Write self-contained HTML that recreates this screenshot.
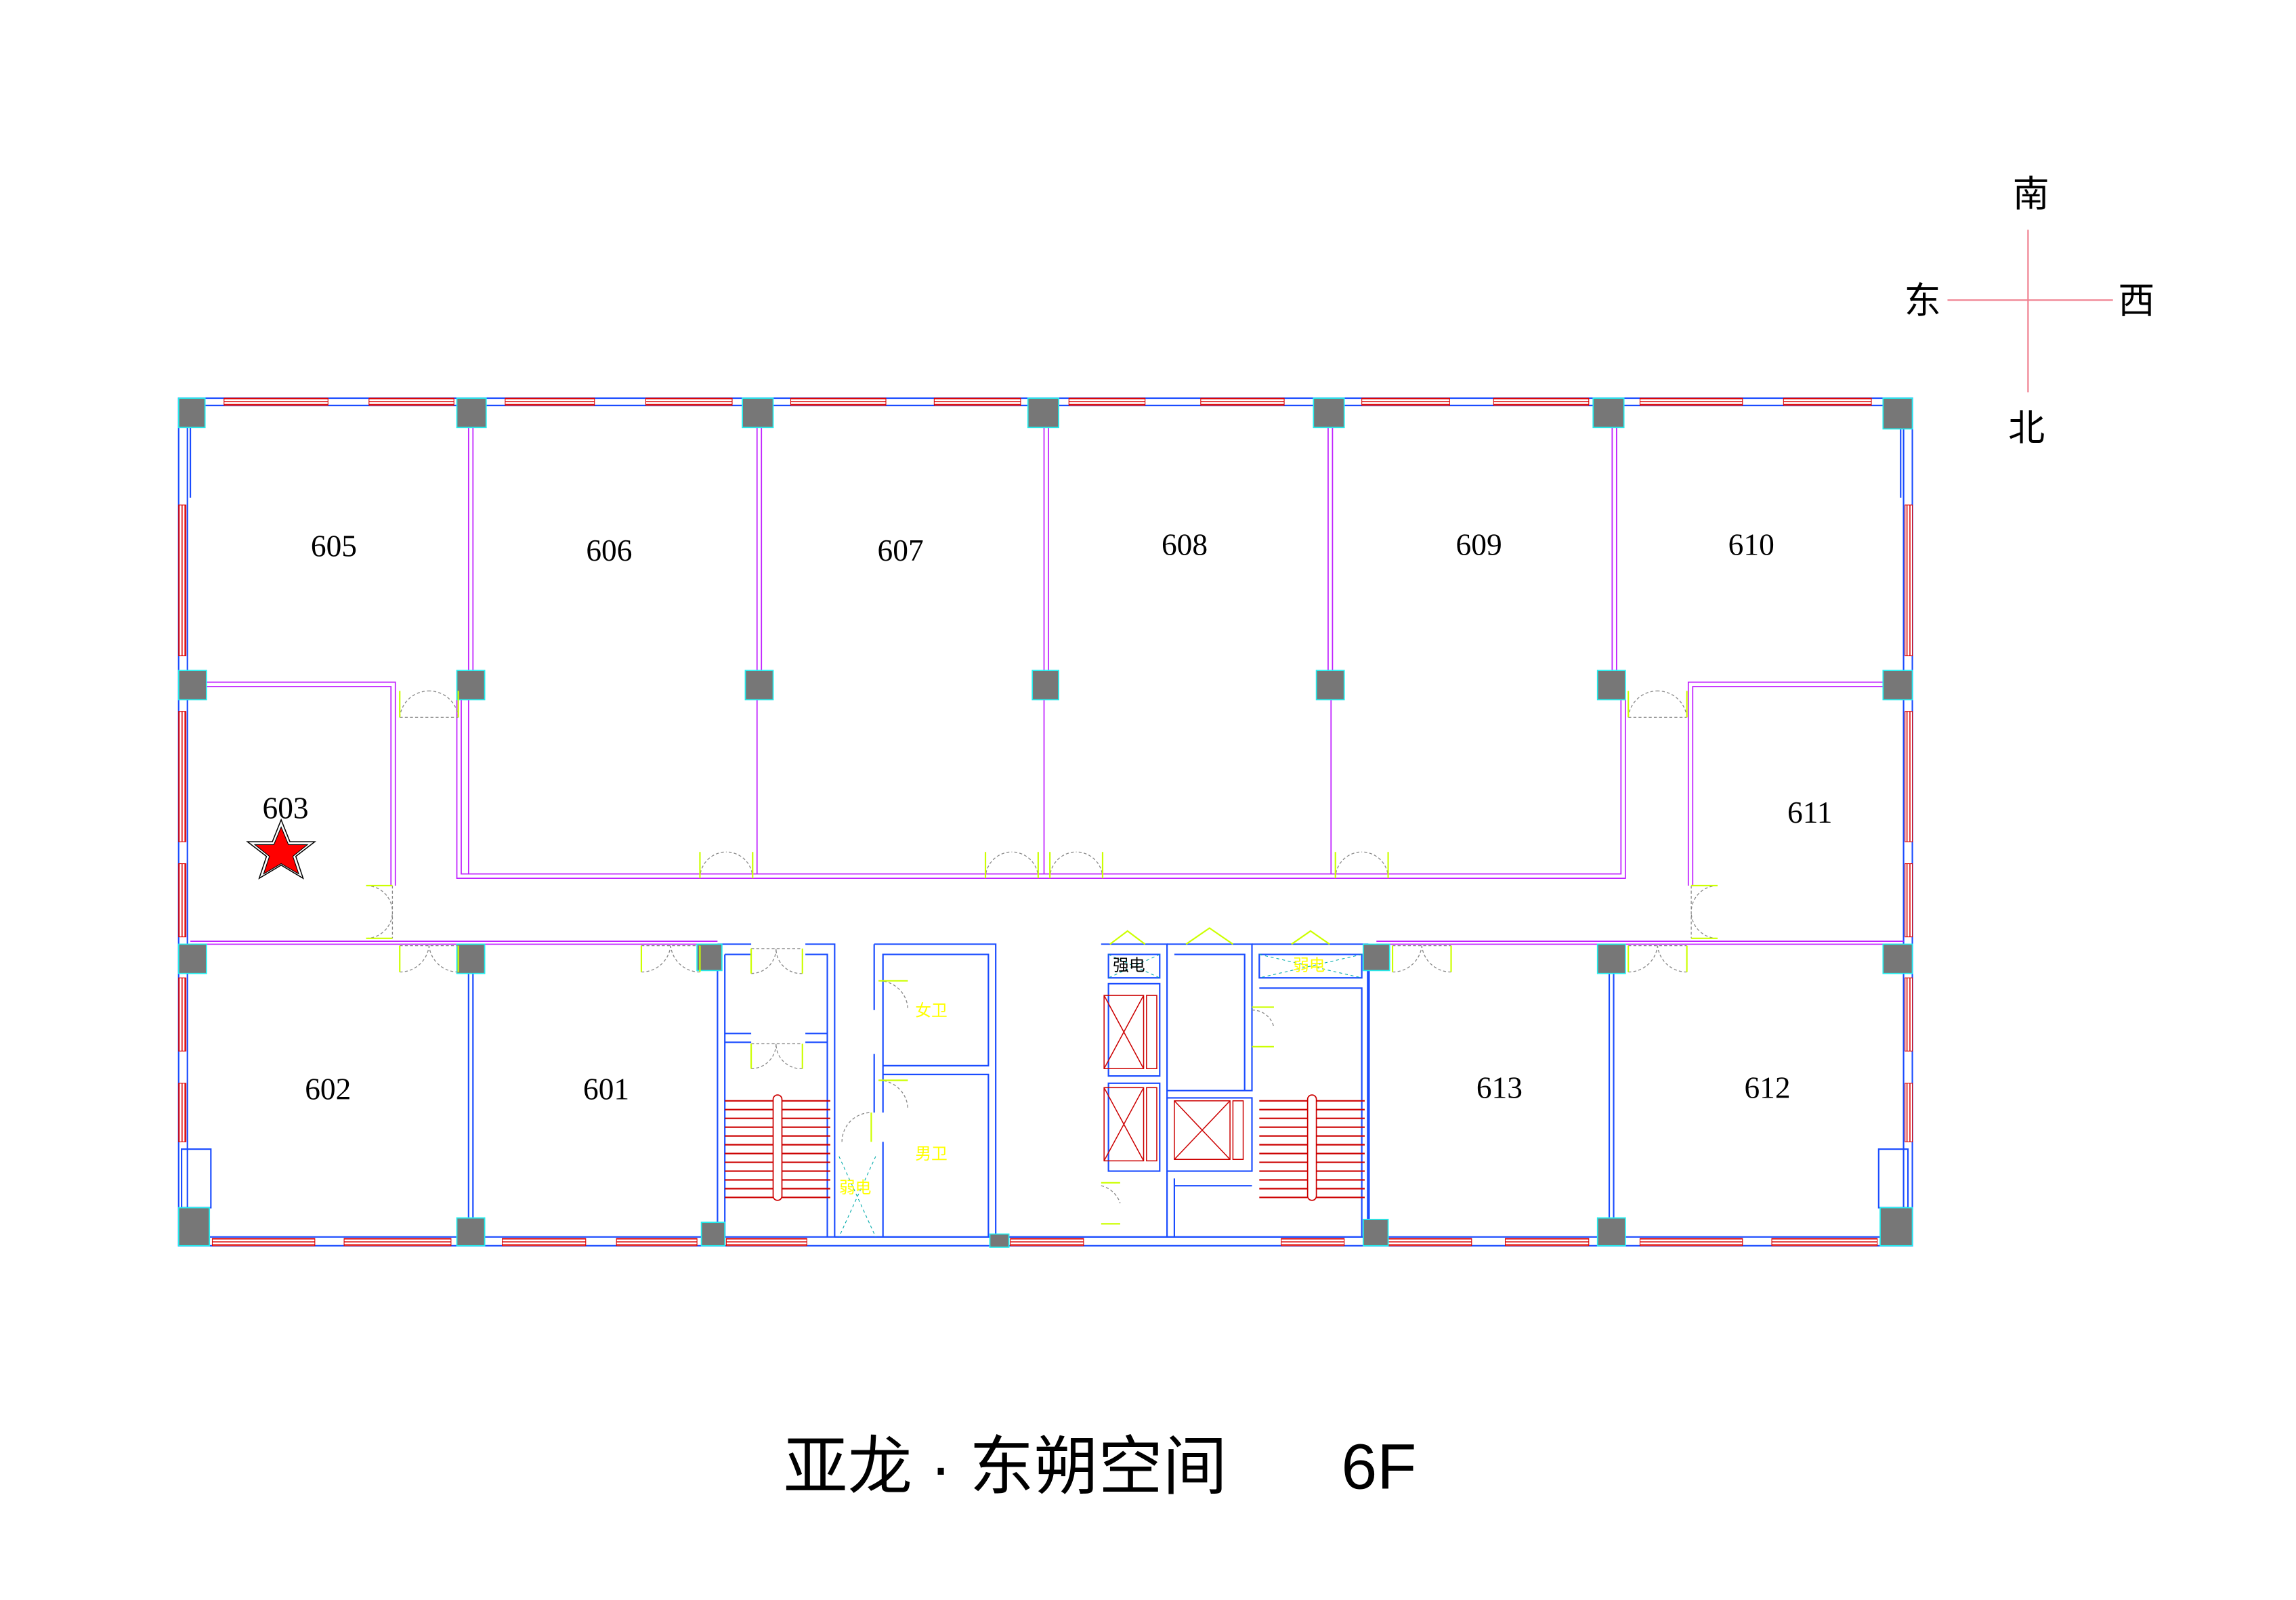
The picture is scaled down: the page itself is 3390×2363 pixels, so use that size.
<!DOCTYPE html>
<html><head><meta charset="utf-8"><style>
html,body{margin:0;padding:0;background:#fff}
svg{display:block}
</style></head><body>
<svg width="3390" height="2363" viewBox="0 0 1568 1093" preserveAspectRatio="none" xmlns="http://www.w3.org/2000/svg">
<defs>
<pattern id="hatch" width="4" height="2" patternUnits="userSpaceOnUse"><rect width="4" height="2" fill="#fff"/><rect width="4" height="0.7" fill="#d00"/></pattern>
<pattern id="vhatch" width="2" height="4" patternUnits="userSpaceOnUse"><rect width="2" height="4" fill="#fff"/><rect width="0.7" height="4" fill="#d00"/></pattern>
</defs>
<rect width="1600" height="1100" fill="#fff"/>

<g stroke="#f08090" stroke-width="1">
<line x1="1385" y1="157" x2="1385" y2="268"/>
<line x1="1330" y1="205" x2="1443" y2="205"/>
</g>
<g font-family="'Liberation Sans','Noto Sans CJK SC',sans-serif" font-size="25" fill="#000" text-anchor="middle">
<text x="1387" y="141">南</text>
<text x="1313" y="214">东</text>
<text x="1459" y="214">西</text>
<text x="1384" y="301">北</text>
</g>

<g fill="none" stroke="#1a4cff" stroke-width="1">
<rect x="122" y="272" width="1184" height="579"/>
<line x1="128" y1="277" x2="1300" y2="277"/>
<line x1="128" y1="845" x2="1300" y2="845"/>
<line x1="128" y1="277" x2="128" y2="845"/>
<line x1="1300" y1="277" x2="1300" y2="845"/>
</g>
<g fill="url(#hatch)" stroke="#d00" stroke-width="0.5">
<rect x="153" y="272" width="71" height="5"/><rect x="252" y="272" width="58" height="5"/>
<rect x="345" y="272" width="61" height="5"/><rect x="441" y="272" width="59" height="5"/>
<rect x="540" y="272" width="65" height="5"/><rect x="638" y="272" width="59" height="5"/>
<rect x="730" y="272" width="52" height="5"/><rect x="820" y="272" width="57" height="5"/>
<rect x="930" y="272" width="60" height="5"/><rect x="1020" y="272" width="65" height="5"/>
<rect x="1120" y="272" width="70" height="5"/><rect x="1218" y="272" width="60" height="5"/>
<rect x="145" y="846" width="70" height="5"/><rect x="235" y="846" width="73" height="5"/>
<rect x="343" y="846" width="57" height="5"/><rect x="421" y="846" width="55" height="5"/>
<rect x="496" y="846" width="55" height="5"/><rect x="690" y="846" width="50" height="5"/>
<rect x="875" y="846" width="43" height="5"/><rect x="948" y="846" width="57" height="5"/>
<rect x="1028" y="846" width="57" height="5"/><rect x="1120" y="846" width="70" height="5"/>
<rect x="1210" y="846" width="72" height="5"/>
</g>
<g fill="url(#vhatch)" stroke="#d00" stroke-width="0.5">
<rect x="122" y="345" width="5" height="103"/><rect x="122" y="486" width="5" height="89"/>
<rect x="122" y="590" width="5" height="50"/><rect x="122" y="668" width="5" height="50"/>
<rect x="122" y="740" width="5" height="40"/>
<rect x="1301" y="345" width="5" height="103"/><rect x="1301" y="486" width="5" height="89"/>
<rect x="1301" y="590" width="5" height="50"/><rect x="1301" y="668" width="5" height="50"/>
<rect x="1301" y="740" width="5" height="40"/>
</g>
<g fill="none" stroke="#1a4cff" stroke-width="1">
<rect x="124" y="785" width="20" height="40"/><rect x="1283" y="785" width="20" height="40"/>
<line x1="130" y1="292" x2="130" y2="340"/><line x1="1298" y1="292" x2="1298" y2="340"/>
</g>

<g fill="none" stroke="#c020ff" stroke-width="0.8">
<path d="M320 292V458 M323 292V458"/>
<path d="M517 292V458 M520 292V458"/>
<path d="M713 292V458 M716 292V458"/>
<path d="M907 292V458 M910 292V458"/>
<path d="M1101 292V458 M1104 292V458"/>
<path d="M312 478V600H1110V478 M315 478V597H1107V478"/>
<path d="M320 478V597 M517 478V597 M713 478V597 M909 478V597"/>
<path d="M140 466H270V605 M140 469H267V605"/>
<path d="M1295 466H1153V605 M1295 469H1156V605"/>
<path d="M130 643H490 M130 645H490 M940 643H1300 M940 645H1300"/>
</g>
<g fill="none" stroke="#1a4cff" stroke-width="1">
<path d="M320 665V832 M323 665V832"/>
<path d="M1099 665V832 M1102 665V832"/>
<path d="M490 645H513 M490 645V845 M495 652V845 M495 652H513 M550 645H570V845 M550 652H565V845"/>
<path d="M495 706H513 M550 706H565 M495 712H513 M550 712H565"/>
<path d="M597 645H680V845 M603 652H675V728H603Z M603 734H675V845 M597 645V690 M603 652V690 M597 720V760 M603 720V760 M603 780V845"/>
<path d="M570 845H934 M752 645H797V845 M757 652H792V668H757Z M757 672V735H792V672Z M757 740V800H792V740Z"/>
<path d="M797 645H855V745H797 M802 652H850V745 M797 750H855V800H797 M802 805V845 M802 810H855"/>
<path d="M855 645H934V845 M860 652H930V668H860Z M860 675H930V845 M935 650V845"/>
</g>
<g fill="none" stroke="#c00" stroke-width="0.7">
<rect x="754" y="680" width="27" height="50"/><path d="M754 680L781 730M781 680L754 730"/><rect x="783" y="680" width="7" height="50"/>
<rect x="754" y="743" width="27" height="50"/><path d="M754 743L781 793M781 743L754 793"/><rect x="783" y="743" width="7" height="50"/>
<rect x="802" y="752" width="38" height="40"/><path d="M802 752L840 792M840 752L802 792"/><rect x="842" y="752" width="7" height="40"/>
</g>
<g stroke="#c00" stroke-width="1">
<path d="M495 752H567M495 758H567M495 764H567M495 770H567M495 776H567M495 782H567M495 788H567M495 794H567M495 800H567M495 806H567M495 812H567M495 818H567"/>
<path d="M860 752H932M860 758H932M860 764H932M860 770H932M860 776H932M860 782H932M860 788H932M860 794H932M860 800H932M860 806H932M860 812H932M860 818H932"/>
</g>
<rect x="528" y="748" width="6" height="72" rx="3" fill="#fff" stroke="#c00" stroke-width="0.8"/>
<rect x="893" y="748" width="6" height="72" rx="3" fill="#fff" stroke="#c00" stroke-width="0.8"/>

<g fill="#777" stroke="#2ee" stroke-width="0.8">
<rect x="122" y="272" width="18" height="20"/><rect x="312" y="272" width="20" height="20"/>
<rect x="507" y="272" width="21" height="20"/><rect x="702" y="272" width="21" height="20"/>
<rect x="897" y="272" width="21" height="20"/><rect x="1088" y="272" width="21" height="20"/>
<rect x="1286" y="272" width="20" height="21"/>
<rect x="122" y="458" width="19" height="20"/><rect x="312" y="458" width="19" height="20"/>
<rect x="509" y="458" width="19" height="20"/><rect x="705" y="458" width="18" height="20"/>
<rect x="899" y="458" width="19" height="20"/><rect x="1091" y="458" width="19" height="20"/>
<rect x="1286" y="458" width="20" height="20"/>
<rect x="122" y="645" width="19" height="20"/><rect x="312" y="645" width="19" height="20"/>
<rect x="476" y="645" width="17" height="18"/><rect x="931" y="645" width="18" height="18"/>
<rect x="1091" y="645" width="19" height="20"/><rect x="1286" y="645" width="20" height="20"/>
<rect x="122" y="825" width="21" height="26"/><rect x="312" y="832" width="19" height="19"/>
<rect x="479" y="835" width="16" height="16"/><rect x="676" y="843" width="13" height="9"/>
<rect x="931" y="833" width="17" height="18"/><rect x="1091" y="832" width="19" height="19"/>
<rect x="1284" y="825" width="22" height="26"/>
</g>

<g fill="none" stroke="#888" stroke-width="0.6" stroke-dasharray="2 1.5">
<path d="M273 490A20 20 0 0 1 293 472M313 490A20 20 0 0 0 293 472M273 490H313"/>
<path d="M478 600A18 18 0 0 1 496 582M514 600A18 18 0 0 0 496 582"/>
<path d="M673 600A18 18 0 0 1 691 582M709 600A18 18 0 0 0 691 582"/>
<path d="M717 600A18 18 0 0 1 735 582M753 600A18 18 0 0 0 735 582"/>
<path d="M912 600A18 18 0 0 1 930 582M948 600A18 18 0 0 0 930 582"/>
<path d="M1112 490A20 20 0 0 1 1132 472M1152 490A20 20 0 0 0 1132 472M1112 490H1152"/>
<path d="M250 605A18 18 0 0 1 268 623M250 641A18 18 0 0 0 268 623M268 605V641"/>
<path d="M1173 605A18 18 0 0 0 1155 623M1173 641A18 18 0 0 1 1155 623M1155 605V641"/>
<path d="M273 664A20 20 0 0 0 293 646M313 664A20 20 0 0 1 293 646M273 646H313"/>
<path d="M438 664A20 20 0 0 0 458 646M478 664A20 20 0 0 1 458 646M438 646H478"/>
<path d="M513 665A17 17 0 0 0 530 648M548 665A17 17 0 0 1 530 648M513 648H548"/>
<path d="M513 730A17 17 0 0 0 530 713M548 730A17 17 0 0 1 530 713M513 713H548"/>
<path d="M951 664A20 20 0 0 0 971 646M991 664A20 20 0 0 1 971 646M951 646H991"/>
<path d="M1112 664A20 20 0 0 0 1132 646M1152 664A20 20 0 0 1 1132 646M1112 646H1152"/>
<path d="M600 670A20 20 0 0 1 620 690M600 738A20 20 0 0 1 620 758M575 780A20 20 0 0 1 595 760"/>
<path d="M752 810A18 18 0 0 1 765 822M855 690A15 15 0 0 1 870 702"/>
</g>
<g fill="none" stroke="#cf0" stroke-width="1">
<path d="M273 472V490M313 472V490M478 582V600M514 582V600M673 582V600M709 582V600M717 582V600M753 582V600M912 582V600M948 582V600M1112 472V490M1152 472V490"/>
<path d="M250 605H268M250 641H268M1155 605H1173M1155 641H1173M273 646V664M313 646V664M438 646V664M478 646V664M513 648V665M548 648V665M513 713V730M548 713V730M951 646V664M991 646V664M1112 646V664M1152 646V664"/>
<path d="M600 670H620M600 738H620M595 760V780M758 645L770 636L782 645M810 645L826 634L842 645M882 645L895 636L908 645M752 808H765M752 836H765M855 688H870M855 715H870"/>
</g>
<g fill="none" stroke="#0aa" stroke-width="0.5" stroke-dasharray="2 2">
<path d="M757 652L792 668M792 652L757 668M860 652L930 668M930 652L860 668M573 790L598 845M598 790L573 845"/>
</g>

<g font-family="'Liberation Serif',serif" font-size="21" fill="#000" text-anchor="middle">
<text x="228" y="380">605</text><text x="416" y="383">606</text><text x="615" y="383">607</text>
<text x="809" y="379">608</text><text x="1010" y="379">609</text><text x="1196" y="379">610</text>
<text x="195" y="559">603</text><text x="1236" y="562">611</text>
<text x="224" y="751">602</text><text x="414" y="751">601</text>
<text x="1024" y="750">613</text><text x="1207" y="750">612</text>
</g>
<g font-family="'Liberation Sans','Noto Sans CJK SC',sans-serif" font-size="11" text-anchor="middle">
<text x="771" y="663" fill="#000">强电</text>
<text x="636" y="694" fill="#ff0">女卫</text>
<text x="636" y="792" fill="#ff0">男卫</text>
<text x="894" y="663" fill="#ff0">弱电</text>
<text x="584" y="815" fill="#ff0">弱电</text>
</g>

<polygon points="192,560 198,575 215,575 202,585 207,600 192,591 177,600 182,585 169,575 186,575" fill="#fff" stroke="#000" stroke-width="0.7"/>
<polygon points="192,565 197,577 210,577 200,585 204,597 192,590 180,597 184,585 174,577 187,577" fill="#f00" stroke="#000" stroke-width="0.5"/>

<g font-family="'Liberation Sans','Noto Sans CJK SC',sans-serif" font-size="44" fill="#000">
<text x="535" y="1017">亚龙 · 东朔空间</text>
<text x="916" y="1017">6F</text>
</g>
</svg>
</body></html>
